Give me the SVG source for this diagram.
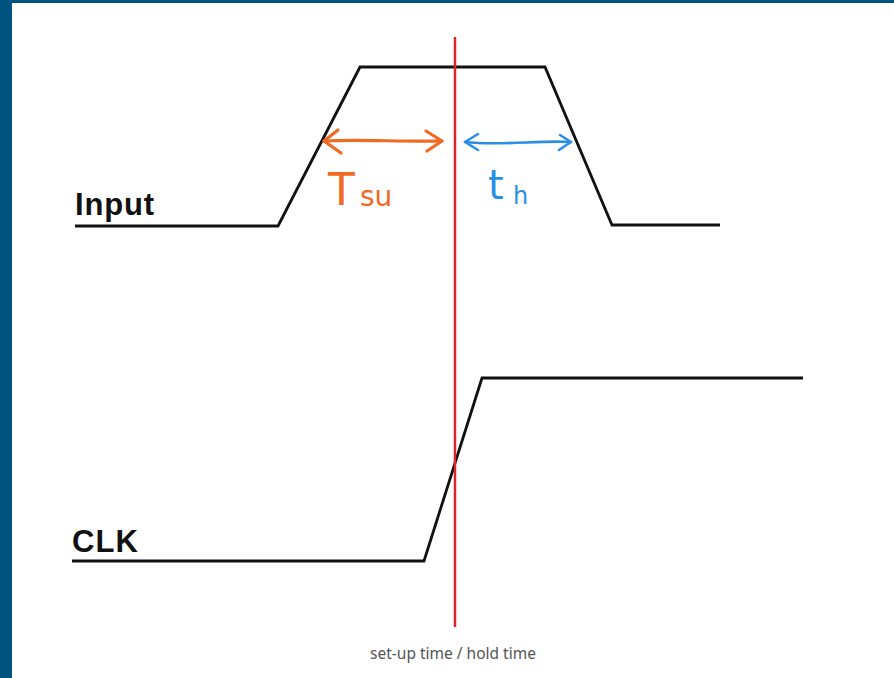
<svg xmlns="http://www.w3.org/2000/svg" width="894" height="678" viewBox="0 0 894 678">
<style>
.wave{fill:none;stroke:#111;stroke-width:2.8;stroke-linejoin:miter}
.lbl{font-family:"Liberation Sans",Arial,sans-serif;font-weight:bold;font-size:31px;fill:#111}
.hand{font-family:"DejaVu Sans",sans-serif;font-weight:normal}
.cap{font-family:"Noto Sans","Open Sans",sans-serif;font-size:15.5px;fill:#555}
</style>
<rect width="894" height="678" fill="#ffffff"/>
<rect x="0" y="0" width="894" height="3" fill="#00527f"/>
<rect x="0" y="0" width="12" height="678" fill="#00527f"/>
<g id="input">
<text class="lbl" x="75" y="215" textLength="79">Input</text>
<polyline class="wave" points="75,226 278,226 360,67 545,67 612,225 720,225"/>
</g>
<g id="clk">
<text class="lbl" x="72" y="552" textLength="66">CLK</text>
<polyline class="wave" points="72,561 424,561 482,378 803,378"/>
</g>
<g id="marker-line">
<line x1="455" y1="37" x2="455" y2="627" stroke="#d9262e" stroke-width="2.5"/>
</g>
<g id="connectors">
<g fill="none" stroke="#f06a24" stroke-width="3.2" stroke-linecap="round" stroke-linejoin="round">
<path d="M324,141 C360,139 400,142 442,141"/>
<path d="M338,130 L324,141 L341,153"/>
<path d="M426,131 L442,141 L427,151"/>
</g>
<g fill="none" stroke="#2a8ee6" stroke-width="2.6" stroke-linecap="round" stroke-linejoin="round">
<path d="M465,142 C500,146 540,140 571,142"/>
<path d="M478,134 L465,142 L478,150"/>
<path d="M560,135 L571,142 L559,150"/>
</g>
</g>
<g id="tsu">
<text class="hand" x="328" y="205" font-size="44" fill="#f06a24">T</text>
<text class="hand" x="360" y="206" font-size="28" fill="#f06a24">su</text>
</g>
<g id="th">
<text class="hand" x="488" y="199" font-size="40" fill="#2a8ee6">t</text>
<text class="hand" x="513" y="204" font-size="24" fill="#2a8ee6">h</text>
</g>
<text class="cap" x="453" y="659" text-anchor="middle">set-up time / hold time</text>
</svg>
